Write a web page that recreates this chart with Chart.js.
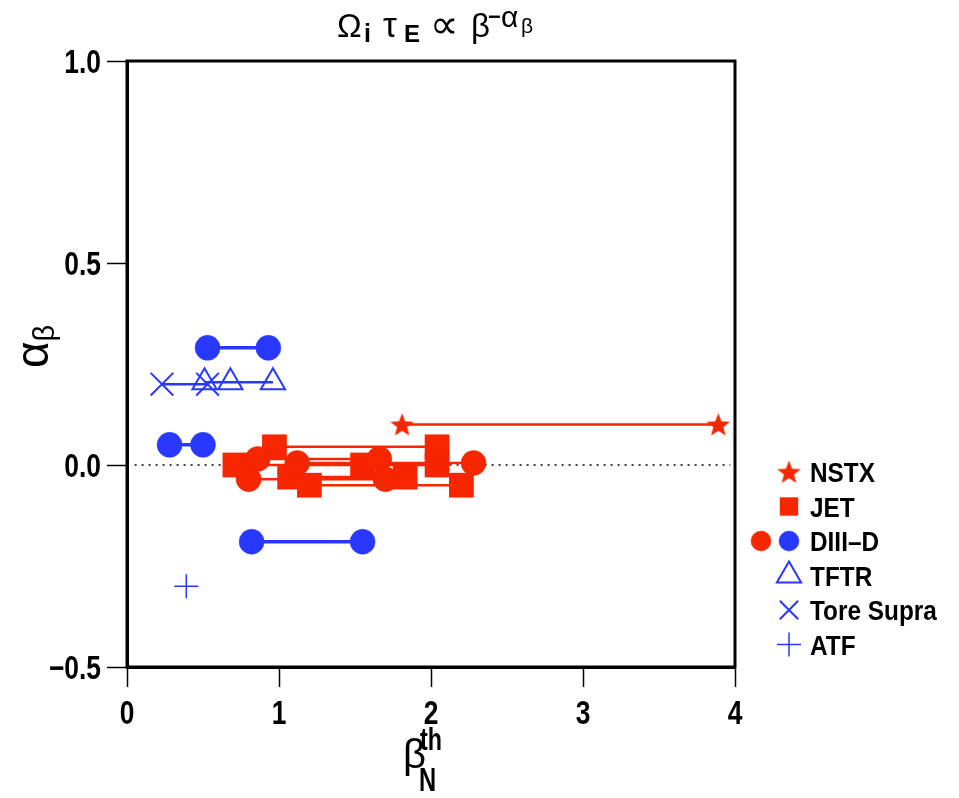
<!DOCTYPE html>
<html>
<head>
<meta charset="utf-8">
<script src="https://cdn.jsdelivr.net/npm/chart.js@4.4.1/dist/chart.umd.min.js"></script>
<style>
  html, body { margin: 0; padding: 0; background: #fff; }
  #wrap { width: 959px; height: 798px; }
</style>
</head>
<body>
<div id="wrap"><canvas id="c" width="959" height="798"></canvas></div>
<script>
// ---------------- data ----------------
const xTicks = [0, 1, 2, 3, 4];
const yTicks = [-0.5, 0.0, 0.5, 1.0];

// NSTX (red stars)
const nstxBeta  = [1.81, 3.89];
const nstxAlpha = [0.10, 0.10];

// JET (red squares), each scan is one horizontal group
const jetBeta  = [[0.97, 2.04], [0.71, 1.55, 2.04], [1.07, 1.83], [1.20, 2.20]];
const jetAlpha = [0.045, 0.00, -0.03, -0.05];

// DIII-D red circles
const d3dRedBeta  = [[0.80, 1.70], [0.86, 1.66], [1.12, 2.28]];
const d3dRedAlpha = [-0.035, 0.015, 0.005];

// DIII-D blue circles
const d3dBlueBeta  = [[0.53, 0.93], [0.28, 0.50], [0.82, 1.55]];
const d3dBlueAlpha = [0.29, 0.05, -0.19];

// TFTR (blue open triangles)
const tftrBeta  = [0.51, 0.68, 0.96];
const tftrAlpha = [0.205, 0.205, 0.205];

// Tore Supra (blue x)
const tsBeta  = [0.23, 0.53];
const tsAlpha = [0.20, 0.20];

// ATF (blue +)
const atfBeta  = [0.39];
const atfAlpha = [-0.30];

// zero reference line
const zeroBeta  = [0.05, 3.97];
const zeroAlpha = [0, 0];

const legendLabels = ['NSTX', 'JET', 'DIII\u2013D', 'TFTR', 'Tore Supra', 'ATF'];

// ---------------- styles ----------------
const RED = 'rgb(245,38,0)';
const BLUE = 'rgb(40,56,255)';
const SANS = '"Liberation Sans", Arial, "DejaVu Sans", sans-serif';

function makeStar(size, color) {
  const cv = document.createElement('canvas');
  cv.width = size; cv.height = size;
  const g = cv.getContext('2d');
  const cx = size / 2, cy = size / 2 + size * 0.04;
  const R = size * 0.5, r = R * 0.42;
  g.beginPath();
  for (let i = 0; i < 10; i++) {
    const rad = (i % 2 === 0) ? R : r;
    const a = -Math.PI / 2 + i * Math.PI / 5;
    const px = cx + rad * Math.cos(a), py = cy + rad * Math.sin(a);
    if (i === 0) g.moveTo(px, py); else g.lineTo(px, py);
  }
  g.closePath();
  g.fillStyle = color;
  g.fill();
  return cv;
}
const starPlot = makeStar(25, RED);
const starLegend = makeStar(25, RED);

function pts(xs, ys) {
  return xs.map((x, i) => ({ x: x, y: Array.isArray(ys) ? ys[i] : ys }));
}

const datasets = [];
datasets.push({
  label: 'NSTX', data: pts(nstxBeta, nstxAlpha), showLine: true,
  borderColor: RED, borderWidth: 2.5, pointStyle: starPlot,
  pointRadius: 12, backgroundColor: RED
});
d3dRedBeta.forEach((b, i) => datasets.push({
  label: 'DIII-D', data: pts(b, d3dRedAlpha[i]), showLine: true,
  borderColor: RED, borderWidth: 2.5, pointStyle: 'circle', pointRadius: 12.5,
  pointBackgroundColor: RED, pointBorderColor: RED, pointBorderWidth: 0.5
}));
jetBeta.forEach((b, i) => datasets.push({
  label: 'JET', data: pts(b, jetAlpha[i]), showLine: true,
  borderColor: RED, borderWidth: 2.5, pointStyle: 'rect', pointRadius: 17.5,
  pointBackgroundColor: RED, pointBorderColor: RED, pointBorderWidth: 0
}));
d3dBlueBeta.forEach((b, i) => datasets.push({
  label: 'DIII-D', data: pts(b, d3dBlueAlpha[i]), showLine: true,
  borderColor: BLUE, borderWidth: 3.5, pointStyle: 'circle', pointRadius: 12.5,
  pointBackgroundColor: BLUE, pointBorderColor: BLUE, pointBorderWidth: 0.5
}));
datasets.push({
  label: 'TFTR', data: pts(tftrBeta, tftrAlpha), showLine: true,
  borderColor: BLUE, borderWidth: 2.5, pointStyle: 'triangle', pointRadius: 14,
  pointBackgroundColor: 'rgba(0,0,0,0)', pointBorderColor: BLUE, pointBorderWidth: 2
});
datasets.push({
  label: 'Tore Supra', data: pts(tsBeta, tsAlpha), showLine: true,
  borderColor: BLUE, borderWidth: 2.5, pointStyle: 'crossRot', pointRadius: 16,
  pointBackgroundColor: BLUE, pointBorderColor: BLUE, pointBorderWidth: 2
});
datasets.push({
  label: 'ATF', data: pts(atfBeta, atfAlpha), showLine: false,
  pointStyle: 'cross', pointRadius: 12, borderColor: BLUE,
  pointBorderColor: BLUE, pointBorderWidth: 1.5
});
datasets.push({
  label: 'zero', data: pts(zeroBeta, zeroAlpha), showLine: true,
  borderColor: '#000', borderWidth: 1.5, borderDash: [2, 5], pointRadius: 0
});

// draw text squeezed horizontally (condensed look)
function squeezed(ctx, text, x, y, font, sx, align) {
  ctx.save();
  ctx.font = font;
  const w = ctx.measureText(text).width * sx;
  let x0 = x;
  if (align === 'right') x0 = x - w;
  else if (align === 'center') x0 = x - w / 2;
  ctx.translate(x0, y);
  ctx.scale(sx, 1);
  ctx.textAlign = 'left';
  ctx.fillText(text, 0, 0);
  ctx.restore();
}

const fmtY = v => (v < 0 ? '\u2212' : '') + Math.abs(v).toFixed(1);

const decor = {
  id: 'decor',
  afterDraw(chart) {
    const ctx = chart.ctx;
    const a = chart.chartArea;
    ctx.save();
    // frame
    ctx.strokeStyle = '#000';
    ctx.lineWidth = 3;
    ctx.strokeRect(a.left, a.top, a.right - a.left, a.bottom - a.top);

    ctx.fillStyle = '#000';
    ctx.textBaseline = 'alphabetic';

    // tick labels, positioned by the chart's own scales
    const TICKFONT = 'bold 33px ' + SANS;
    const xs = chart.scales.x, ysc = chart.scales.y;
    xs.ticks.forEach(t => {
      squeezed(ctx, String(t.value), xs.getPixelForValue(t.value), a.bottom + 57, TICKFONT, 0.8, 'center');
    });
    ysc.ticks.forEach(t => {
      squeezed(ctx, fmtY(t.value), a.left - 26, ysc.getPixelForValue(t.value) + 12, TICKFONT, 0.8, 'right');
    });

    // title
    const T = [
      { t: '\u03A9', f: '33px ' + SANS, x: 337, y: 37 },
      { t: 'i', f: 'bold 25px ' + SANS, x: 364, y: 42 },
      { t: '\u03C4', f: '35px ' + SANS, x: 383, y: 37 },
      { t: 'E', f: 'bold 24px ' + SANS, x: 404, y: 42 },
      { t: '\u221D', f: '40px ' + SANS, x: 430, y: 38 },
      { t: '\u03B2', f: '33px ' + SANS, x: 471, y: 37 },
      { t: '\u2212', f: 'bold 22px ' + SANS, x: 488, y: 24 },
      { t: '\u03B1', f: '30px ' + SANS, x: 501, y: 27 },
      { t: '\u03B2', f: '21px ' + SANS, x: 521, y: 33 }
    ];
    T.forEach(p => { ctx.font = p.f; ctx.textAlign = 'left'; ctx.fillText(p.t, p.x, p.y); });

    // y-axis title (rotated)
    ctx.save();
    ctx.translate(48, 368);
    ctx.rotate(-Math.PI / 2);
    ctx.textAlign = 'left';
    ctx.font = '46px ' + SANS;
    ctx.fillText('\u03B1', 0, 0);
    const aw = ctx.measureText('\u03B1').width;
    ctx.font = '29px ' + SANS;
    ctx.fillText('\u03B2', aw, 6);
    ctx.restore();

    // x-axis title
    ctx.textAlign = 'left';
    ctx.font = '40px ' + SANS;
    ctx.fillText('\u03B2', 403, 768);
    squeezed(ctx, 'th', 420, 750, 'bold 31px ' + SANS, 0.75, 'left');
    squeezed(ctx, 'N', 419, 791, 'bold 33px ' + SANS, 0.72, 'left');

    // legend
    const H = Chart.helpers;
    const items = [
      { style: starLegend, r: 12, fill: RED, stroke: RED, bw: 0 },
      { style: 'rect', r: 13, fill: RED, stroke: RED, bw: 0 },
      { style: 'circle', r: 10, fill: BLUE, stroke: BLUE, bw: 0.5, extra: RED },
      { style: 'triangle', r: 14, fill: 'rgba(0,0,0,0)', stroke: BLUE, bw: 2 },
      { style: 'crossRot', r: 13, fill: BLUE, stroke: BLUE, bw: 2 },
      { style: 'cross', r: 12, fill: BLUE, stroke: BLUE, bw: 1.5 }
    ];
    const ly = [472, 506.5, 541, 575.5, 610, 644.5];
    items.forEach((it, i) => {
      const y = ly[i];
      if (it.extra) {
        ctx.fillStyle = it.extra; ctx.strokeStyle = it.extra; ctx.lineWidth = 0.5;
        H.drawPoint(ctx, { pointStyle: 'circle', radius: 10, rotation: 0, borderWidth: 0.5 }, 761, y);
      }
      ctx.fillStyle = it.fill; ctx.strokeStyle = it.stroke; ctx.lineWidth = it.bw;
      H.drawPoint(ctx, { pointStyle: it.style, radius: it.r, rotation: 0, borderWidth: it.bw }, 789, y);
      ctx.fillStyle = '#000';
      squeezed(ctx, legendLabels[i], 810, y + 10, 'bold 28px ' + SANS, 0.87, 'left');
    });
    ctx.restore();
  }
};

new Chart(document.getElementById('c'), {
  type: 'scatter',
  data: { datasets: datasets },
  options: {
    responsive: false,
    animation: false,
    devicePixelRatio: 1,
    layout: { padding: { top: 61, right: 224, bottom: 0, left: 0 } },
    plugins: { legend: { display: false }, title: { display: false }, tooltip: { enabled: false } },
    scales: {
      x: {
        type: 'linear', min: 0, max: 4,
        afterBuildTicks: s => { s.ticks = xTicks.map(v => ({ value: v })); },
        afterFit: s => { s.height = 131; },
        ticks: { display: false },
        grid: { drawOnChartArea: false, drawTicks: true, tickLength: 20, tickWidth: 1.5, tickColor: '#000' },
        border: { display: true, color: '#000', width: 3 }
      },
      y: {
        type: 'linear', min: -0.5, max: 1.0,
        afterBuildTicks: s => { s.ticks = yTicks.map(v => ({ value: v })); },
        afterFit: s => { s.width = 127; },
        ticks: { display: false },
        grid: { drawOnChartArea: false, drawTicks: true, tickLength: 20, tickWidth: 1.5, tickColor: '#000' },
        border: { display: true, color: '#000', width: 3 }
      }
    }
  },
  plugins: [decor]
});
</script>
</body>
</html>
